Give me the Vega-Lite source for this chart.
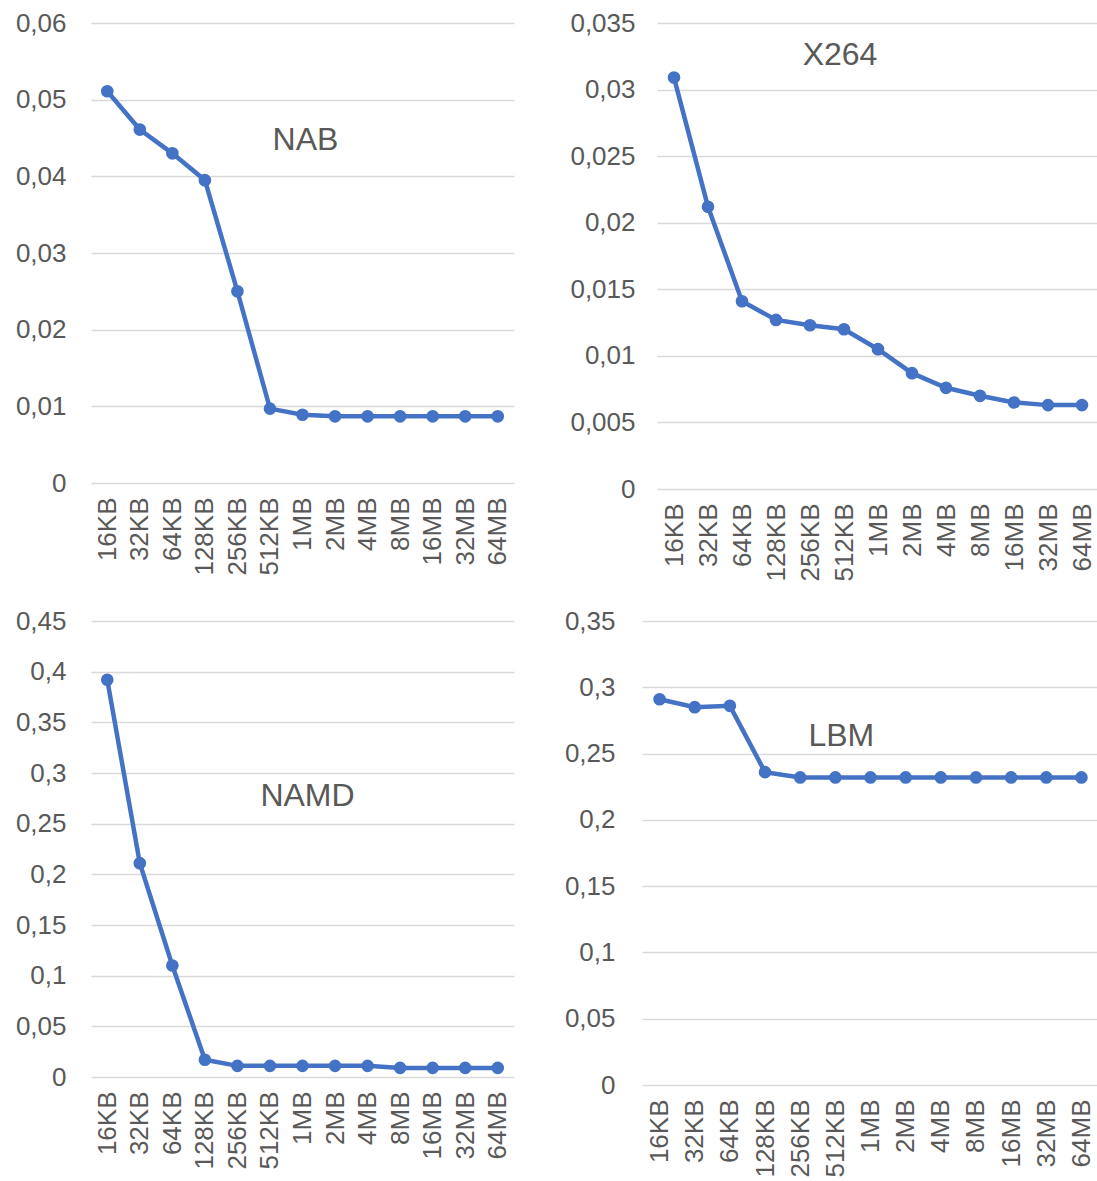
{
  "$schema": "https://vega.github.io/schema/vega-lite/v6.json",
  "background": "white",
  "padding": {"left": 15, "top": 10, "right": 0, "bottom": 0},
  "datasets": {
    "NAB": [
      {"size": "16KB", "value": 0.0511}, {"size": "32KB", "value": 0.0461}, {"size": "64KB", "value": 0.0430},
      {"size": "128KB", "value": 0.0395}, {"size": "256KB", "value": 0.0250}, {"size": "512KB", "value": 0.0097},
      {"size": "1MB", "value": 0.0089}, {"size": "2MB", "value": 0.0087}, {"size": "4MB", "value": 0.0087},
      {"size": "8MB", "value": 0.0087}, {"size": "16MB", "value": 0.0087}, {"size": "32MB", "value": 0.0087},
      {"size": "64MB", "value": 0.0087}
    ],
    "X264": [
      {"size": "16KB", "value": 0.0309}, {"size": "32KB", "value": 0.0212}, {"size": "64KB", "value": 0.0141},
      {"size": "128KB", "value": 0.0127}, {"size": "256KB", "value": 0.0123}, {"size": "512KB", "value": 0.0120},
      {"size": "1MB", "value": 0.0105}, {"size": "2MB", "value": 0.0087}, {"size": "4MB", "value": 0.0076},
      {"size": "8MB", "value": 0.0070}, {"size": "16MB", "value": 0.0065}, {"size": "32MB", "value": 0.0063},
      {"size": "64MB", "value": 0.0063}
    ],
    "NAMD": [
      {"size": "16KB", "value": 0.392}, {"size": "32KB", "value": 0.211}, {"size": "64KB", "value": 0.110},
      {"size": "128KB", "value": 0.017}, {"size": "256KB", "value": 0.011}, {"size": "512KB", "value": 0.011},
      {"size": "1MB", "value": 0.011}, {"size": "2MB", "value": 0.011}, {"size": "4MB", "value": 0.011},
      {"size": "8MB", "value": 0.009}, {"size": "16MB", "value": 0.009}, {"size": "32MB", "value": 0.009},
      {"size": "64MB", "value": 0.009}
    ],
    "LBM": [
      {"size": "16KB", "value": 0.291}, {"size": "32KB", "value": 0.285}, {"size": "64KB", "value": 0.286},
      {"size": "128KB", "value": 0.236}, {"size": "256KB", "value": 0.232}, {"size": "512KB", "value": 0.232},
      {"size": "1MB", "value": 0.232}, {"size": "2MB", "value": 0.232}, {"size": "4MB", "value": 0.232},
      {"size": "8MB", "value": 0.232}, {"size": "16MB", "value": 0.232}, {"size": "32MB", "value": 0.232},
      {"size": "64MB", "value": 0.232}
    ]
  },
  "spacing": 26,
  "vconcat": [
    {
      "spacing": 55,
      "hconcat": [
        {
          "width": 423, "height": 460,
          "layer": [
            {
              "data": {"name": "NAB"},
              "mark": {"type": "line", "color": "#4472C4", "strokeWidth": 4.5, "point": {"filled": true, "size": 160, "color": "#4472C4"}},
              "encoding": {
                "x": {"field": "size", "type": "ordinal", "scale": {"type": "point", "padding": 0.5, "domain": ["16KB","32KB","64KB","128KB","256KB","512KB","1MB","2MB","4MB","8MB","16MB","32MB","64MB"]}},
                "y": {"field": "value", "type": "quantitative", "scale": {"domain": [0, 0.06], "nice": false}, "axis": {"values": [0, 0.01, 0.02, 0.03, 0.04, 0.05, 0.06], "labelPadding": 25}}
              }
            },
            {
              "data": {"values": [{}]},
              "mark": {"type": "text", "text": "NAB", "font": "Liberation Sans", "fontSize": 32, "color": "#595959", "dx": 3},
              "encoding": {"x": {"datum": "1MB", "type": "ordinal"}, "y": {"datum": 0.0447, "type": "quantitative"}}
            }
          ]
        },
        {
          "width": 442, "height": 466,
          "layer": [
            {
              "data": {"name": "X264"},
              "mark": {"type": "line", "color": "#4472C4", "strokeWidth": 4.5, "point": {"filled": true, "size": 160, "color": "#4472C4"}},
              "encoding": {
                "x": {"field": "size", "type": "ordinal", "scale": {"type": "point", "padding": 0.5, "domain": ["16KB","32KB","64KB","128KB","256KB","512KB","1MB","2MB","4MB","8MB","16MB","32MB","64MB"]}},
                "y": {"field": "value", "type": "quantitative", "scale": {"domain": [0, 0.035], "nice": false}, "axis": {"values": [0, 0.005, 0.01, 0.015, 0.02, 0.025, 0.03, 0.035], "labelPadding": 22}}
              }
            },
            {
              "data": {"values": [{}]},
              "mark": {"type": "text", "text": "X264", "font": "Liberation Sans", "fontSize": 32, "color": "#595959", "dx": -4},
              "encoding": {"x": {"datum": "512KB", "type": "ordinal"}, "y": {"datum": 0.0326, "type": "quantitative"}}
            }
          ]
        }
      ]
    },
    {
      "spacing": 50,
      "hconcat": [
        {
          "width": 423, "height": 456,
          "layer": [
            {
              "data": {"name": "NAMD"},
              "mark": {"type": "line", "color": "#4472C4", "strokeWidth": 4.5, "point": {"filled": true, "size": 160, "color": "#4472C4"}},
              "encoding": {
                "x": {"field": "size", "type": "ordinal", "scale": {"type": "point", "padding": 0.5, "domain": ["16KB","32KB","64KB","128KB","256KB","512KB","1MB","2MB","4MB","8MB","16MB","32MB","64MB"]}},
                "y": {"field": "value", "type": "quantitative", "scale": {"domain": [0, 0.45], "nice": false}, "axis": {"values": [0, 0.05, 0.1, 0.15, 0.2, 0.25, 0.3, 0.35, 0.4, 0.45], "labelPadding": 25}}
              }
            },
            {
              "data": {"values": [{}]},
              "mark": {"type": "text", "text": "NAMD", "font": "Liberation Sans", "fontSize": 32, "color": "#595959", "dx": 5},
              "encoding": {"x": {"datum": "1MB", "type": "ordinal"}, "y": {"datum": 0.277, "type": "quantitative"}}
            }
          ]
        },
        {
          "width": 457, "height": 464,
          "layer": [
            {
              "data": {"name": "LBM"},
              "mark": {"type": "line", "color": "#4472C4", "strokeWidth": 4.5, "point": {"filled": true, "size": 160, "color": "#4472C4"}},
              "encoding": {
                "x": {"field": "size", "type": "ordinal", "scale": {"type": "point", "padding": 0.5, "domain": ["16KB","32KB","64KB","128KB","256KB","512KB","1MB","2MB","4MB","8MB","16MB","32MB","64MB"]}},
                "y": {"field": "value", "type": "quantitative", "scale": {"domain": [0, 0.35], "nice": false}, "axis": {"values": [0, 0.05, 0.1, 0.15, 0.2, 0.25, 0.3, 0.35], "labelPadding": 27}}
              }
            },
            {
              "data": {"values": [{}]},
              "mark": {"type": "text", "text": "LBM", "font": "Liberation Sans", "fontSize": 32, "color": "#595959", "dx": 6},
              "encoding": {"x": {"datum": "512KB", "type": "ordinal"}, "y": {"datum": 0.263, "type": "quantitative"}}
            }
          ]
        }
      ]
    }
  ],
  "config": {
    "view": {"stroke": null},
    "axis": {
      "title": null,
      "labelFont": "Liberation Sans",
      "labelFontSize": 26,
      "labelColor": "#595959",
      "domain": false,
      "ticks": false,
      "tickSize": 0,
      "gridColor": "#d9d9d9",
      "gridWidth": 1.5,
      "labelOverlap": false
    },
    "axisX": {"grid": false, "labelAngle": -90, "labelPadding": 14},
    "axisY": {"labelExpr": "replace(format(datum.value, '~g'), '.', ',')"}
  }
}
